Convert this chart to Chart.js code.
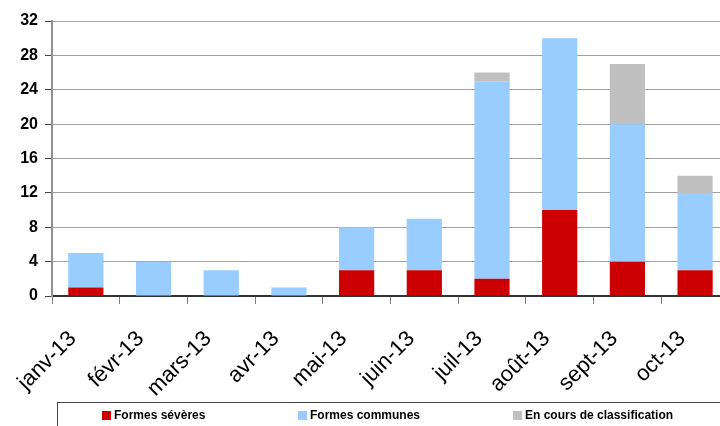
<!DOCTYPE html>
<html>
<head>
<meta charset="utf-8">
<script src="https://cdn.jsdelivr.net/npm/chart.js@4"></script>
<style>
  html, body { margin: 0; padding: 0; background: #fff; overflow: hidden; }
  #wrap { width: 720px; height: 426px; overflow: hidden; position: relative; }
  #box { width: 736px; height: 426px; }
</style>
</head>
<body>
<div id="wrap"><div id="box"><canvas id="myChart"></canvas></div></div>
<script>
const months = ['janv-13', 'févr-13', 'mars-13', 'avr-13', 'mai-13', 'juin-13', 'juil-13', 'août-13', 'sept-13', 'oct-13'];
const severes = [1, 0, 0, 0, 3, 3, 2, 10, 4, 3];
const communes = [4, 4, 3, 1, 5, 6, 23, 20, 16, 9];
const en_cours = [0, 0, 0, 0, 0, 0, 1, 0, 7, 2];
const y_ticks = [0, 4, 8, 12, 16, 20, 24, 28, 32];

const series_names = ['Formes sévères', 'Formes communes', 'En cours de classification'];
const series_colors = ['#cc0000', '#99ccff', '#c0c0c0'];

// legend drawn by hand, inside a framed box at the bottom
const boxed_legend = {
  id: 'boxed_legend',
  afterDraw(chart) {
    const ctx = chart.ctx;
    ctx.save();
    ctx.strokeStyle = '#444';
    ctx.lineWidth = 1;
    ctx.strokeRect(57.5, 402.5, 700, 40);
    ctx.font = 'bold 12px "Liberation Sans", Arial, sans-serif';
    ctx.textBaseline = 'middle';
    const starts = [102, 298, 513];
    chart.data.datasets.forEach((ds, i) => {
      ctx.fillStyle = ds.backgroundColor;
      ctx.fillRect(starts[i], 411, 9, 9);
      ctx.fillStyle = '#000';
      ctx.fillText(ds.label, starts[i] + 12, 416);
    });
    ctx.restore();
  }
};

const chart = new Chart(document.getElementById('myChart'), {
  type: 'bar',
  data: {
    labels: months,
    datasets: [severes, communes, en_cours].map((values, i) => ({
      label: series_names[i],
      data: values,
      backgroundColor: series_colors[i],
      barPercentage: 1,
      categoryPercentage: 0.52
    }))
  },
  options: {
    responsive: true,
    maintainAspectRatio: false,
    animation: false,
    layout: { padding: { top: 21, right: 5, bottom: 30, left: 0 } },
    plugins: {
      legend: { display: false },
      tooltip: { enabled: false }
    },
    scales: {
      x: {
        stacked: true,
        grid: { drawOnChartArea: false, color: '#808080', tickLength: 8, offset: true },
        border: { color: '#333', width: 2 },
        ticks: {
          color: '#000',
          font: { family: '"Liberation Sans", Arial, sans-serif', size: 22 },
          maxRotation: 45,
          minRotation: 45,
          padding: 22,
          labelOffset: -13,
          autoSkip: false
        },
        afterFit: (axis) => { axis.height = 100; }
      },
      y: {
        stacked: true,
        min: 0,
        max: 32,
        afterBuildTicks: (axis) => { axis.ticks = y_ticks.map(v => ({ value: v })); },
        grid: { color: '#a0a0a0', tickLength: 7, tickColor: '#444' },
        border: { color: '#909090', width: 2 },
        ticks: {
          color: '#000',
          padding: 7,
          font: { family: '"Liberation Sans", Arial, sans-serif', size: 16, weight: 'bold' }
        },
        afterFit: (axis) => { axis.width = 52; }
      }
    }
  },
  plugins: [boxed_legend]
});
</script>
</body>
</html>
